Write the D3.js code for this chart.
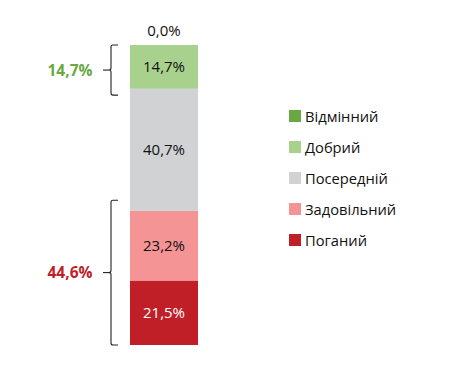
<!DOCTYPE html>
<html>
<head>
<meta charset="utf-8">
<script src="https://cdn.jsdelivr.net/npm/d3@7"></script>
<style>
  body { margin: 0; background: #fff; }
  text { font-family: "Open Sans", "Noto Sans", sans-serif; }
</style>
</head>
<body>
<div id="chart"></div>
<script>
// categories bottom to top
var categories = ["Поганий", "Задовільний", "Посередній", "Добрий", "Відмінний"];
var values = [21.5, 23.2, 40.7, 14.7, 0.0];
var labels = ["21,5%", "23,2%", "40,7%", "14,7%", "0,0%"];
var colors = ["#c01f27", "#f59494", "#d1d2d4", "#a9d18e", "#6aa843"];
var labelColors = ["#fff", "#111", "#111", "#111", "#111"];

// grouped brackets on the left
var groups = [
  { from: 85.3, to: 100, label: "14,7%", color: "#6aa843", padTop: 0, padBottom: 6 },
  { from: 0, to: 44.6, label: "44,6%", color: "#c01f27", padTop: 11, padBottom: 0 }
];

var width = 449, height = 366;

var svg = d3.select("#chart").append("svg")
    .attr("width", width)
    .attr("height", height);

var y = d3.scaleLinear()
    .domain([0, 100])
    .range([345, 45]);

var x = d3.scaleBand()
    .domain(["bar"])
    .range([130, 198])
    .padding(0);

// stack the values
var stacked = [];
var acc = 0;
values.forEach(function(v, i) {
    stacked.push({ cat: categories[i], y0: acc, y1: acc + v, label: labels[i], color: colors[i], lc: labelColors[i] });
    acc += v;
});
// clamp top to 100
stacked.forEach(function(d) { d.y1 = Math.min(d.y1, 100); d.y0 = Math.min(d.y0, 100); });

svg.selectAll(".seg")
    .data(stacked)
    .enter().append("rect")
    .attr("class", "seg")
    .attr("x", x("bar"))
    .attr("width", x.bandwidth())
    .attr("y", function(d) { return y(d.y1); })
    .attr("height", function(d) { return y(d.y0) - y(d.y1); })
    .attr("fill", function(d) { return d.color; });

svg.selectAll(".seglabel")
    .data(stacked)
    .enter().append("text")
    .attr("class", "seglabel")
    .attr("x", x("bar") + x.bandwidth() / 2)
    .attr("y", function(d) {
        if (d.y1 - d.y0 < 1) return y(d.y1) - 9;
        return (y(d.y0) + y(d.y1)) / 2 + 5;
    })
    .attr("text-anchor", "middle")
    .attr("font-size", 15)
    .attr("fill", function(d) { return d.lc; })
    .text(function(d) { return d.label; });

// brackets
var bx = 111;
groups.forEach(function(g) {
    var top = y(g.to) - g.padTop, bot = y(g.from) + g.padBottom;
    var mid = (top + bot) / 2;
    var p = "M" + (bx + 7) + "," + top + " L" + (bx + 2) + "," + top +
        " Q" + bx + "," + top + " " + bx + "," + (top + 2) +
        " L" + bx + "," + (mid - 2) + " Q" + bx + "," + mid + " " + (bx - 2) + "," + mid +
        " Q" + bx + "," + mid + " " + bx + "," + (mid + 2) +
        " L" + bx + "," + (bot - 2) + " Q" + bx + "," + bot + " " + (bx + 2) + "," + bot +
        " L" + (bx + 7) + "," + bot;
    svg.append("path")
        .attr("d", p)
        .attr("fill", "none")
        .attr("stroke", "#222")
        .attr("stroke-width", 1.1);
    svg.append("line")
        .attr("x1", bx - 8).attr("x2", bx - 2)
        .attr("y1", mid).attr("y2", mid)
        .attr("stroke", "#222")
        .attr("stroke-width", 1.1);
    svg.append("text")
        .attr("x", 70)
        .attr("y", mid + 5.5)
        .attr("text-anchor", "middle")
        .attr("font-size", 15.5)
        .attr("font-weight", "bold")
        .attr("fill", g.color)
        .text(g.label);
});

// legend, top to bottom
var legendItems = categories.map(function(c, i) { return { name: c, color: colors[i] }; }).reverse();
var legend = svg.selectAll(".legend")
    .data(legendItems)
    .enter().append("g")
    .attr("class", "legend")
    .attr("transform", function(d, i) { return "translate(289," + (110 + i * 31) + ")"; });

legend.append("rect")
    .attr("width", 12)
    .attr("height", 12)
    .attr("fill", function(d) { return d.color; });

legend.append("text")
    .attr("x", 16)
    .attr("y", 11.5)
    .attr("font-size", 14.7)
    .attr("fill", "#111")
    .text(function(d) { return d.name; });
</script>
</body>
</html>
